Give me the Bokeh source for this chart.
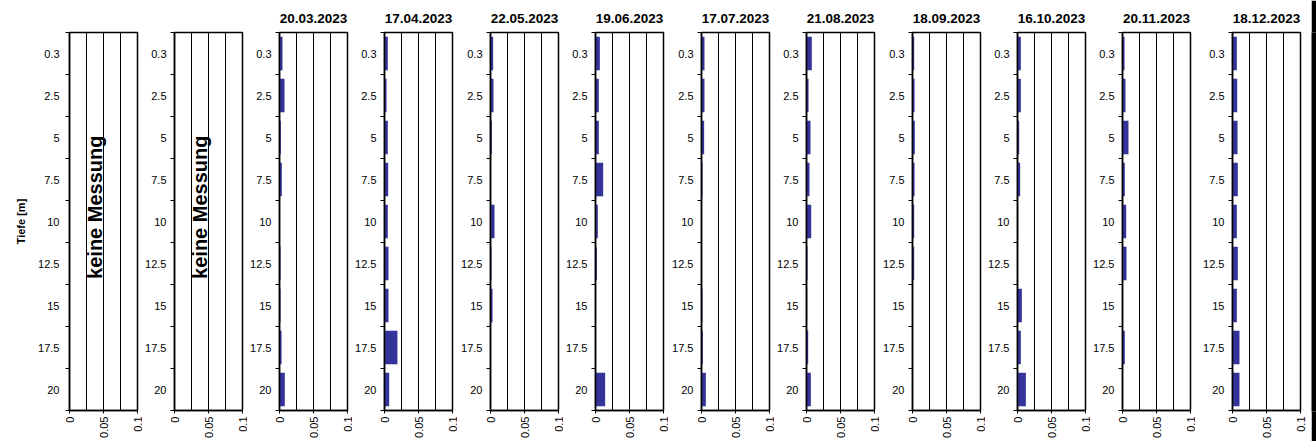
from math import pi
from bokeh.plotting import figure
from bokeh.layouts import row
from bokeh.models import Range1d, FixedTicker, Label
from bokeh.embed import file_html
from bokeh.resources import INLINE

# ---------------- data ----------------
depths = ["0.3", "2.5", "5", "7.5", "10", "12.5", "15", "17.5", "20"]
dates = ["", "", "20.03.2023", "17.04.2023", "22.05.2023", "19.06.2023",
         "17.07.2023", "21.08.2023", "18.09.2023", "16.10.2023",
         "20.11.2023", "18.12.2023"]

v_20_03 = [0.0044, 0.0074, 0.0020, 0.0034, 0.0000, 0.0015, 0.0015, 0.0030, 0.0078]
v_17_04 = [0.0049, 0.0030, 0.0049, 0.0054, 0.0049, 0.0059, 0.0059, 0.0190, 0.0069]
v_22_05 = [0.0039, 0.0044, 0.0020, 0.0000, 0.0059, 0.0015, 0.0030, 0.0000, 0.0000]
v_19_06 = [0.0064, 0.0049, 0.0049, 0.0113, 0.0034, 0.0020, 0.0000, 0.0000, 0.0142]
v_17_07 = [0.0044, 0.0044, 0.0039, 0.0015, 0.0000, 0.0000, 0.0015, 0.0020, 0.0064]
v_21_08 = [0.0078, 0.0030, 0.0059, 0.0044, 0.0069, 0.0015, 0.0010, 0.0025, 0.0064]
v_18_09 = [0.0025, 0.0030, 0.0034, 0.0030, 0.0025, 0.0025, 0.0000, 0.0000, 0.0000]
v_16_10 = [0.0049, 0.0049, 0.0025, 0.0039, 0.0010, 0.0000, 0.0064, 0.0049, 0.0123]
v_20_11 = [0.0030, 0.0044, 0.0088, 0.0034, 0.0054, 0.0059, 0.0000, 0.0034, 0.0000]
v_18_12 = [0.0064, 0.0069, 0.0074, 0.0078, 0.0064, 0.0078, 0.0064, 0.0103, 0.0103]

series = [None, None, v_20_03, v_17_04, v_22_05, v_19_06, v_17_07, v_21_08,
          v_18_09, v_16_10, v_20_11, v_18_12]

x_ticks = [0, 0.05, 0.1]
x_tick_labels = ["0", "0.05", "0.1"]
grid_ticks = [0.025, 0.05, 0.075]
no_data_text = "keine Messung"
y_title = "Tiefe [m]"

# ---------------- layout / style ----------------
border_left = [69, 32, 32, 32, 33, 32, 33, 32, 33, 32, 32, 37]
border_right = [5] * 11 + [11]
FONT = "Liberation Sans"
BAR = "#333399"

n = len(depths)
centers = [i + 0.5 for i in range(n)]
bounds = [i for i in range(n + 1)]

figs = []
for k in range(12):
    p = figure(frame_width=68, frame_height=378,
               x_range=Range1d(0, 0.1), y_range=Range1d(n, 0),
               output_backend="svg", toolbar_location=None,
               min_border_left=border_left[k], min_border_right=border_right[k],
               min_border_top=32, min_border_bottom=30,
               background_fill_color="white", border_fill_color="white",
               outline_line_color="black", outline_line_width=1.5,
               title=dates[k])
    p.title.align = "center"
    p.title.vertical_align = "top"
    p.title.text_font = FONT
    p.title.text_font_style = "bold"
    p.title.text_font_size = "13.5px"
    p.title.text_color = "black"
    p.title.standoff = 16
    p.title.offset = 0

    vals = series[k]
    if vals is not None:
        p.hbar(y=centers, right=vals, left=0, height=0.8,
               fill_color=BAR, line_color=None)
    else:
        p.add_layout(Label(x=0.037, y=4.16, text=no_data_text, angle=pi / 2,
                           text_align="center", text_baseline="middle",
                           text_font=FONT, text_font_style="bold",
                           text_font_size="20px", text_color="black"))

    # grid
    p.ygrid.visible = False
    p.xgrid.ticker = FixedTicker(ticks=grid_ticks)
    p.xgrid.grid_line_color = "black"
    p.xgrid.grid_line_width = 1
    p.xgrid.grid_line_alpha = 1

    # x axis
    xa = p.xaxis[0]
    xa.ticker = FixedTicker(ticks=x_ticks, minor_ticks=[])
    xa.major_label_overrides = dict(zip(x_ticks, x_tick_labels))
    xa.major_label_orientation = pi / 2
    xa.major_label_text_font = FONT
    xa.major_label_text_font_size = "11px"
    xa.major_label_text_color = "black"
    xa.major_tick_out = 3
    xa.major_tick_in = 0
    xa.minor_tick_out = 0
    xa.minor_tick_in = 0
    xa.major_label_standoff = 3
    xa.axis_line_width = 1.5
    xa.axis_line_color = "black"
    xa.major_tick_line_color = "black"

    # y axis
    ya = p.yaxis[0]
    ya.ticker = FixedTicker(ticks=centers, minor_ticks=bounds)
    ya.major_label_overrides = dict(zip(centers, depths))
    ya.major_label_text_font = FONT
    ya.major_label_text_font_size = "11px"
    ya.major_label_text_color = "black"
    ya.major_tick_out = 0
    ya.major_tick_in = 0
    ya.minor_tick_out = 4
    ya.minor_tick_in = 0
    ya.minor_tick_line_color = "black"
    ya.major_label_standoff = 6 if k == 0 else 4
    ya.axis_line_width = 1.5
    ya.axis_line_color = "black"
    if k == 0:
        ya.axis_label = y_title
        ya.axis_label_text_font = FONT
        ya.axis_label_text_font_style = "bold"
        ya.axis_label_text_font_size = "11px"
        ya.axis_label_text_color = "black"
        ya.axis_label_standoff = 8
    figs.append(p)

# thin black strip at the right edge of the picture
edge = figure(width=5, height=441, output_backend="svg", toolbar_location=None,
              min_border=0, background_fill_color="black",
              border_fill_color="black", outline_line_color=None)
edge.axis.visible = False
edge.grid.visible = False

layout = row(figs + [edge], spacing=0)
open("out.html", "w").write(file_html(layout, INLINE))
